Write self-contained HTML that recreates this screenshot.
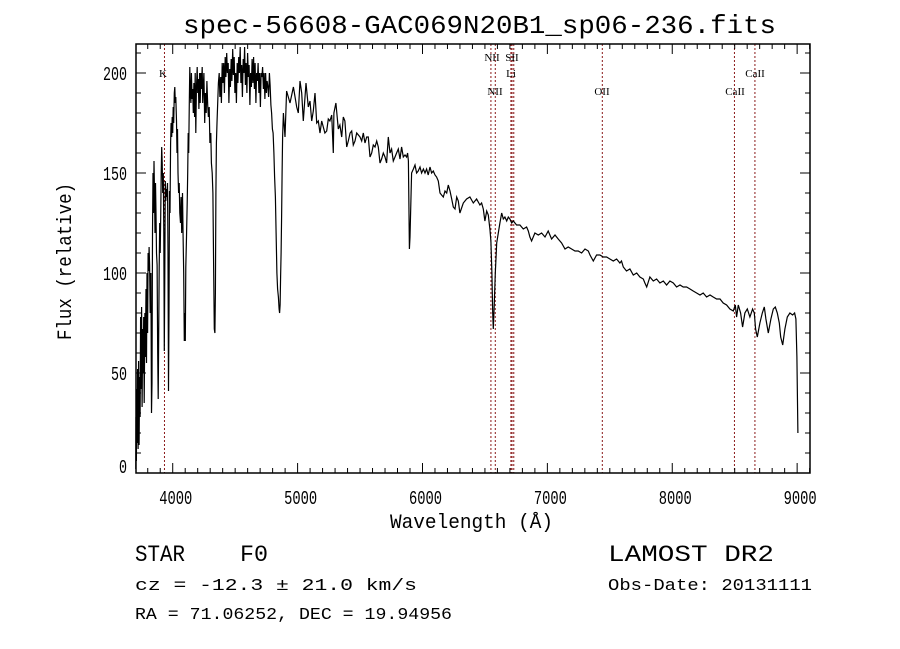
<!DOCTYPE html>
<html><head><meta charset="utf-8"><style>
html,body{margin:0;padding:0;background:#fff;}
svg{display:block;}
text{font-family:"Liberation Mono",monospace;fill:#000;}
.lbl{font-family:"Liberation Serif",serif;font-size:11px;}
</style></head><body>
<svg id="chart" width="900" height="649" viewBox="0 0 900 649" xmlns="http://www.w3.org/2000/svg">
<rect x="0" y="0" width="900" height="649" fill="#fff"/>
<text x="183" y="33" font-size="26" textLength="593" lengthAdjust="spacingAndGlyphs">spec-56608-GAC069N20B1_sp06-236.fits</text>
<g id="plot"></g>
<text x="390" y="528" font-size="20" textLength="163" lengthAdjust="spacingAndGlyphs">Wavelength (Å)</text>
<text transform="translate(71,340) rotate(-90)" x="0" y="0" font-size="20" textLength="157" lengthAdjust="spacingAndGlyphs">Flux (relative)</text>
<text x="135" y="561" font-size="23" textLength="50" lengthAdjust="spacingAndGlyphs">STAR</text>
<text x="240" y="561" font-size="23" textLength="28" lengthAdjust="spacingAndGlyphs">F0</text>
<text x="608" y="561" font-size="23" textLength="166" lengthAdjust="spacingAndGlyphs">LAMOST DR2</text>
<text x="135" y="590" font-size="17" textLength="282" lengthAdjust="spacingAndGlyphs">cz = -12.3 ± 21.0 km/s</text>
<text x="608" y="590" font-size="17" textLength="204" lengthAdjust="spacingAndGlyphs">Obs-Date: 20131111</text>
<text x="135" y="619" font-size="17" textLength="317" lengthAdjust="spacingAndGlyphs">RA =  71.06252, DEC =  19.94956</text>
</svg>
<script>
const xTicks=[4000,5000,6000,7000,8000,9000];
const yTicks=[0,50,100,150,200];
const lineNames=["K","NII","NII","SII","SII","Li","OII","CaII","CaII"];
const lineWaves=[3934,6548,6583,6717,6731,6708,7440,8498,8662];
const wave=[3704,3706,3709,3712,3715,3719,3723,3727,3731,3735,3739,3743,3747,3751,3755,3760,3764,3768,3772,3777,3781,3786,3790,3794,3799,3803,3807,3811,3815,3820,3825,3830,3834,3838,3842,3846,3850,3854,3858,3862,3866,3870,3875,3880,3884,3888,3892,3896,3900,3904,3908,3912,3916,3920,3925,3929,3933,3937,3941,3945,3949,3953,3958,3962,3966,3970,3974,3978,3983,3987,3992,3996,4000,4004,4008,4013,4017,4021,4025,4030,4034,4038,4042,4047,4052,4057,4062,4067,4072,4078,4083,4088,4093,4097,4101,4105,4110,4116,4120,4124,4128,4133,4137,4141,4146,4150,4155,4160,4165,4170,4175,4180,4185,4190,4196,4200,4205,4210,4215,4220,4225,4230,4236,4240,4245,4250,4256,4262,4268,4274,4280,4286,4292,4298,4305,4310,4316,4322,4328,4333,4338,4342,4346,4350,4355,4360,4366,4372,4378,4384,4390,4396,4402,4408,4414,4420,4426,4432,4438,4444,4450,4456,4462,4468,4474,4480,4486,4492,4498,4504,4510,4516,4522,4528,4534,4540,4546,4552,4558,4564,4570,4576,4582,4588,4594,4600,4606,4612,4618,4624,4630,4636,4642,4648,4654,4660,4666,4672,4678,4684,4690,4696,4702,4708,4714,4720,4726,4732,4738,4744,4750,4756,4762,4768,4774,4780,4786,4792,4798,4804,4810,4816,4822,4828,4834,4840,4846,4852,4856,4860,4864,4868,4872,4876,4880,4886,4899,4912,4939,4966,4993,5006,5019,5033,5046,5067,5086,5099,5113,5126,5139,5153,5166,5179,5193,5206,5219,5233,5246,5259,5273,5286,5291,5307,5326,5339,5353,5366,5379,5393,5406,5420,5433,5446,5460,5473,5500,5513,5526,5540,5553,5566,5580,5593,5606,5620,5633,5646,5660,5673,5686,5700,5713,5726,5740,5753,5766,5780,5793,5806,5820,5833,5846,5860,5873,5881,5887,5895,5900,5913,5927,5940,5953,5966,5980,5993,6007,6020,6033,6046,6060,6073,6087,6100,6113,6127,6140,6153,6167,6180,6194,6207,6220,6234,6247,6260,6274,6287,6300,6327,6353,6380,6407,6433,6460,6473,6487,6500,6514,6527,6540,6548,6556,6562,6567,6575,6583,6594,6607,6620,6634,6647,6660,6674,6687,6700,6714,6727,6754,6780,6807,6834,6847,6860,6874,6900,6927,6954,6981,7007,7034,7061,7087,7114,7141,7167,7194,7221,7247,7274,7301,7328,7341,7368,7394,7421,7448,7474,7501,7528,7554,7581,7594,7608,7634,7661,7688,7715,7741,7768,7781,7795,7821,7848,7875,7901,7928,7955,7981,8008,8035,8062,8088,8115,8142,8168,8195,8222,8248,8275,8302,8328,8355,8382,8408,8435,8462,8489,8505,8515,8529,8547,8563,8582,8601,8622,8643,8657,8667,8681,8702,8721,8737,8750,8769,8790,8809,8825,8841,8857,8868,8884,8902,8921,8942,8964,8980,8990,8998,9006];
const flux=[2,28,6,42,15,52,12,56,14,48,28,78,42,83,33,72,50,78,35,80,58,92,55,100,70,110,101,113,104,80,100,30,45,120,150,130,156,140,120,145,130,110,104,60,37,70,103,125,110,128,150,163,155,140,150,120,61,100,146,136,142,138,145,110,41,80,141,130,165,175,168,178,170,183,175,190,193,185,188,176,160,172,150,140,145,130,125,138,120,140,118,100,66,80,66,103,118,135,150,170,160,185,203,190,185,200,187,192,180,195,178,200,170,192,203,190,197,182,200,185,200,192,203,185,193,200,175,190,180,196,184,178,183,165,170,155,150,140,100,72,70,90,140,165,175,185,195,200,188,198,185,205,195,205,190,208,198,210,200,205,185,202,193,207,196,212,199,208,190,200,185,205,195,208,200,213,195,204,188,207,200,213,194,205,190,210,198,204,184,200,193,207,195,208,192,205,185,200,196,205,190,200,183,200,198,203,192,200,187,200,190,196,193,188,200,194,184,180,172,170,160,148,138,120,100,92,88,82,80,84,98,110,128,150,168,180,168,191,185,193,183,180,196,190,176,195,183,186,176,181,190,175,176,170,176,173,170,171,177,176,179,160,180,185,172,174,168,178,176,163,166,170,171,164,166,170,168,166,170,165,168,168,158,160,164,163,166,163,155,157,160,158,155,168,160,162,156,158,160,162,157,163,158,159,158,160,156,112,118,150,152,154,150,151,153,150,152,150,152,149,153,150,151,149,148,146,140,139,138,141,140,144,141,137,133,132,138,136,130,135,137,138,135,137,134,135,132,126,131,129,122,116,100,80,72,85,100,115,120,125,130,127,128,126,128,127,125,126,124,124,122,123,121,118,116,120,119,120,118,121,117,119,117,115,112,113,112,111,111,110,112,111,109,106,109,109,108,108,107,106,107,105,106,103,101,102,99,100,98,97,95,93,98,96,97,95,96,94,96,95,93,94,93,93,92,91,90,89,90,88,89,88,87,87,85,84,82,81,84,78,84,80,73,80,82,78,82,80,72,68,75,80,83,77,70,77,82,83,80,75,68,64,72,78,80,79,80,77,58,20,2];

const L=136,R=810,T=44,B=473;
const X0=3706,X1=9103,Y0=0,Y1=214.5;
function xs(w){return L+(w-X0)/(X1-X0)*(R-L);}
function ys(f){return B-(f-Y0)/(Y1-Y0)*(B-T);}
const NS="http://www.w3.org/2000/svg";
const plot=document.getElementById('plot');
function mk(tag,attrs){const e=document.createElementNS(NS,tag);for(const k in attrs)e.setAttribute(k,attrs[k]);return e;}

// emission/absorption marker lines
const rows={"K":77,"NII0":60,"NII1":94,"SII0":60,"SII1":60,"Li":76,"OII":94,"CaII0":94,"CaII1":76};
lineWaves.forEach((w,i)=>{
  const x=xs(w);
  const ln=mk('line',{x1:x,x2:x,y1:T,y2:B,stroke:'#8b1a1a','stroke-width':1,'stroke-dasharray':'2,2'});
  
  
  plot.appendChild(ln);
});
const labelPos=[["K",163,77],["NII",492,61],["SII",512,61],["Li",511,77],["NII",495,95],["OII",602,95],["CaII",735,95],["CaII",755,77]];
labelPos.forEach(p=>{
  const t=mk('text',{x:p[1],y:p[2],'text-anchor':'middle',class:'lbl'});
  t.textContent=p[0];
  
  
  plot.appendChild(t);
});

// spectrum
let d='';
wave.forEach((w,i)=>{d+=(i?'L':'M')+xs(w).toFixed(1)+','+ys(flux[i]).toFixed(1);});
const path=mk('path',{d:d,fill:'none',stroke:'#000','stroke-width':1.2,'stroke-linejoin':'miter'});


plot.appendChild(path);

// frame
const frame=mk('rect',{x:L,y:T,width:R-L,height:B-T,fill:'none',stroke:'#000','stroke-width':1.5});


plot.appendChild(frame);

// x ticks
for(let w=3800;w<=9100;w+=100){
  const x=xs(w);const major=(w%1000===0);const len=major?10:5;
  plot.appendChild(mk('line',{x1:x,x2:x,y1:B,y2:B-len,stroke:'#000','stroke-width':1}));
  plot.appendChild(mk('line',{x1:x,x2:x,y1:T,y2:T+len,stroke:'#000','stroke-width':1}));
}
xTicks.forEach(w=>{
  const t=mk('text',{x:xs(w)+3,y:504,'text-anchor':'middle','font-size':19,textLength:33,lengthAdjust:'spacingAndGlyphs'});
  t.textContent=String(w);
  
  
  plot.appendChild(t);
});
// y ticks
for(let f=0;f<=210;f+=10){
  const y=ys(f);const major=(f%50===0);const len=major?10:5;
  plot.appendChild(mk('line',{x1:L,x2:L+len,y1:y,y2:y,stroke:'#000','stroke-width':1}));
  plot.appendChild(mk('line',{x1:R,x2:R-len,y1:y,y2:y,stroke:'#000','stroke-width':1}));
}
yTicks.forEach(f=>{
  const s=String(f);
  const y=Math.min(ys(f)+7,473);
  const t=mk('text',{x:127,y:f===0?473:y,'text-anchor':'end','font-size':19,textLength:s.length*8,lengthAdjust:'spacingAndGlyphs'});
  t.textContent=s;
  
  
  plot.appendChild(t);
});
</script>
</body></html>
